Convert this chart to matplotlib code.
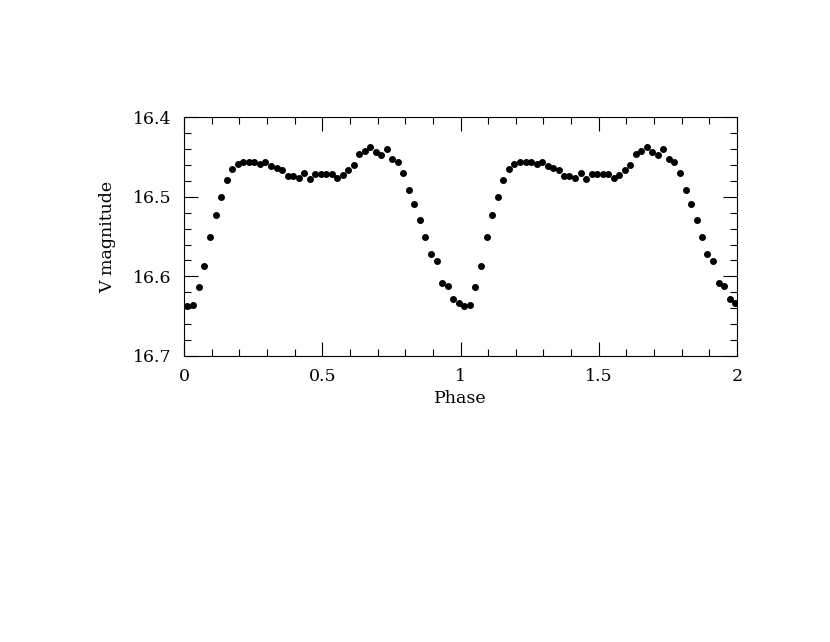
import numpy as np
import matplotlib.pyplot as plt
from matplotlib.ticker import MultipleLocator

# phase (one cycle) and V magnitude
phase = [0.012, 0.034, 0.054, 0.073, 0.095, 0.115, 0.135, 0.155, 0.175, 0.194,
         0.215, 0.235, 0.254, 0.275, 0.294, 0.315, 0.335, 0.355, 0.375, 0.394,
         0.415, 0.434, 0.455, 0.474, 0.494, 0.514, 0.534, 0.554, 0.574, 0.594,
         0.614, 0.634, 0.654, 0.673, 0.694, 0.714, 0.733, 0.753, 0.773, 0.793,
         0.814, 0.833, 0.854, 0.873, 0.893, 0.914, 0.933, 0.953, 0.974, 0.993]
vmag = [16.637, 16.636, 16.613, 16.587, 16.551, 16.523, 16.500, 16.479, 16.465, 16.459,
        16.456, 16.456, 16.457, 16.459, 16.456, 16.462, 16.464, 16.466, 16.474, 16.474,
        16.476, 16.470, 16.478, 16.472, 16.472, 16.472, 16.472, 16.477, 16.473, 16.466,
        16.460, 16.446, 16.442, 16.438, 16.444, 16.447, 16.440, 16.453, 16.457, 16.470,
        16.491, 16.509, 16.529, 16.550, 16.572, 16.581, 16.608, 16.612, 16.628, 16.633]

# the same cycle shown twice, as usual for a folded light curve
ph = np.concatenate([phase, np.array(phase) + 1])
mag = np.concatenate([vmag, vmag])

plt.rcParams['font.family'] = 'DejaVu Serif'

fig = plt.figure(figsize=(8.3, 6.42), dpi=100)
ax = fig.add_axes([0.2217, 0.4455, 0.6663, 0.3721])

ax.plot(ph, mag, 'o', color='black', ms=4.0, mec='black')

ax.set_xlim(0, 2)
ax.set_ylim(16.7, 16.4)
ax.xaxis.set_major_locator(MultipleLocator(0.5))
ax.xaxis.set_minor_locator(MultipleLocator(0.1))
ax.yaxis.set_major_locator(MultipleLocator(0.1))
ax.yaxis.set_minor_locator(MultipleLocator(0.02))
ax.xaxis.set_major_formatter(plt.FuncFormatter(lambda v, p: f'{v:g}'))
ax.yaxis.set_major_formatter(plt.FuncFormatter(lambda v, p: f'{v:.1f}'))

ax.tick_params(which='both', direction='in', top=True, right=True, width=0.8,
               labelsize=12.5, color='black')
ax.tick_params(which='major', length=10, pad=9)
ax.tick_params(which='minor', length=5.2)
for s in ax.spines.values():
    s.set_linewidth(0.8)

ax.set_xlabel('Phase', fontsize=12.5, labelpad=3)
ax.set_ylabel('V magnitude', fontsize=12.5, labelpad=12)

fig.savefig('out.png', dpi=100)
